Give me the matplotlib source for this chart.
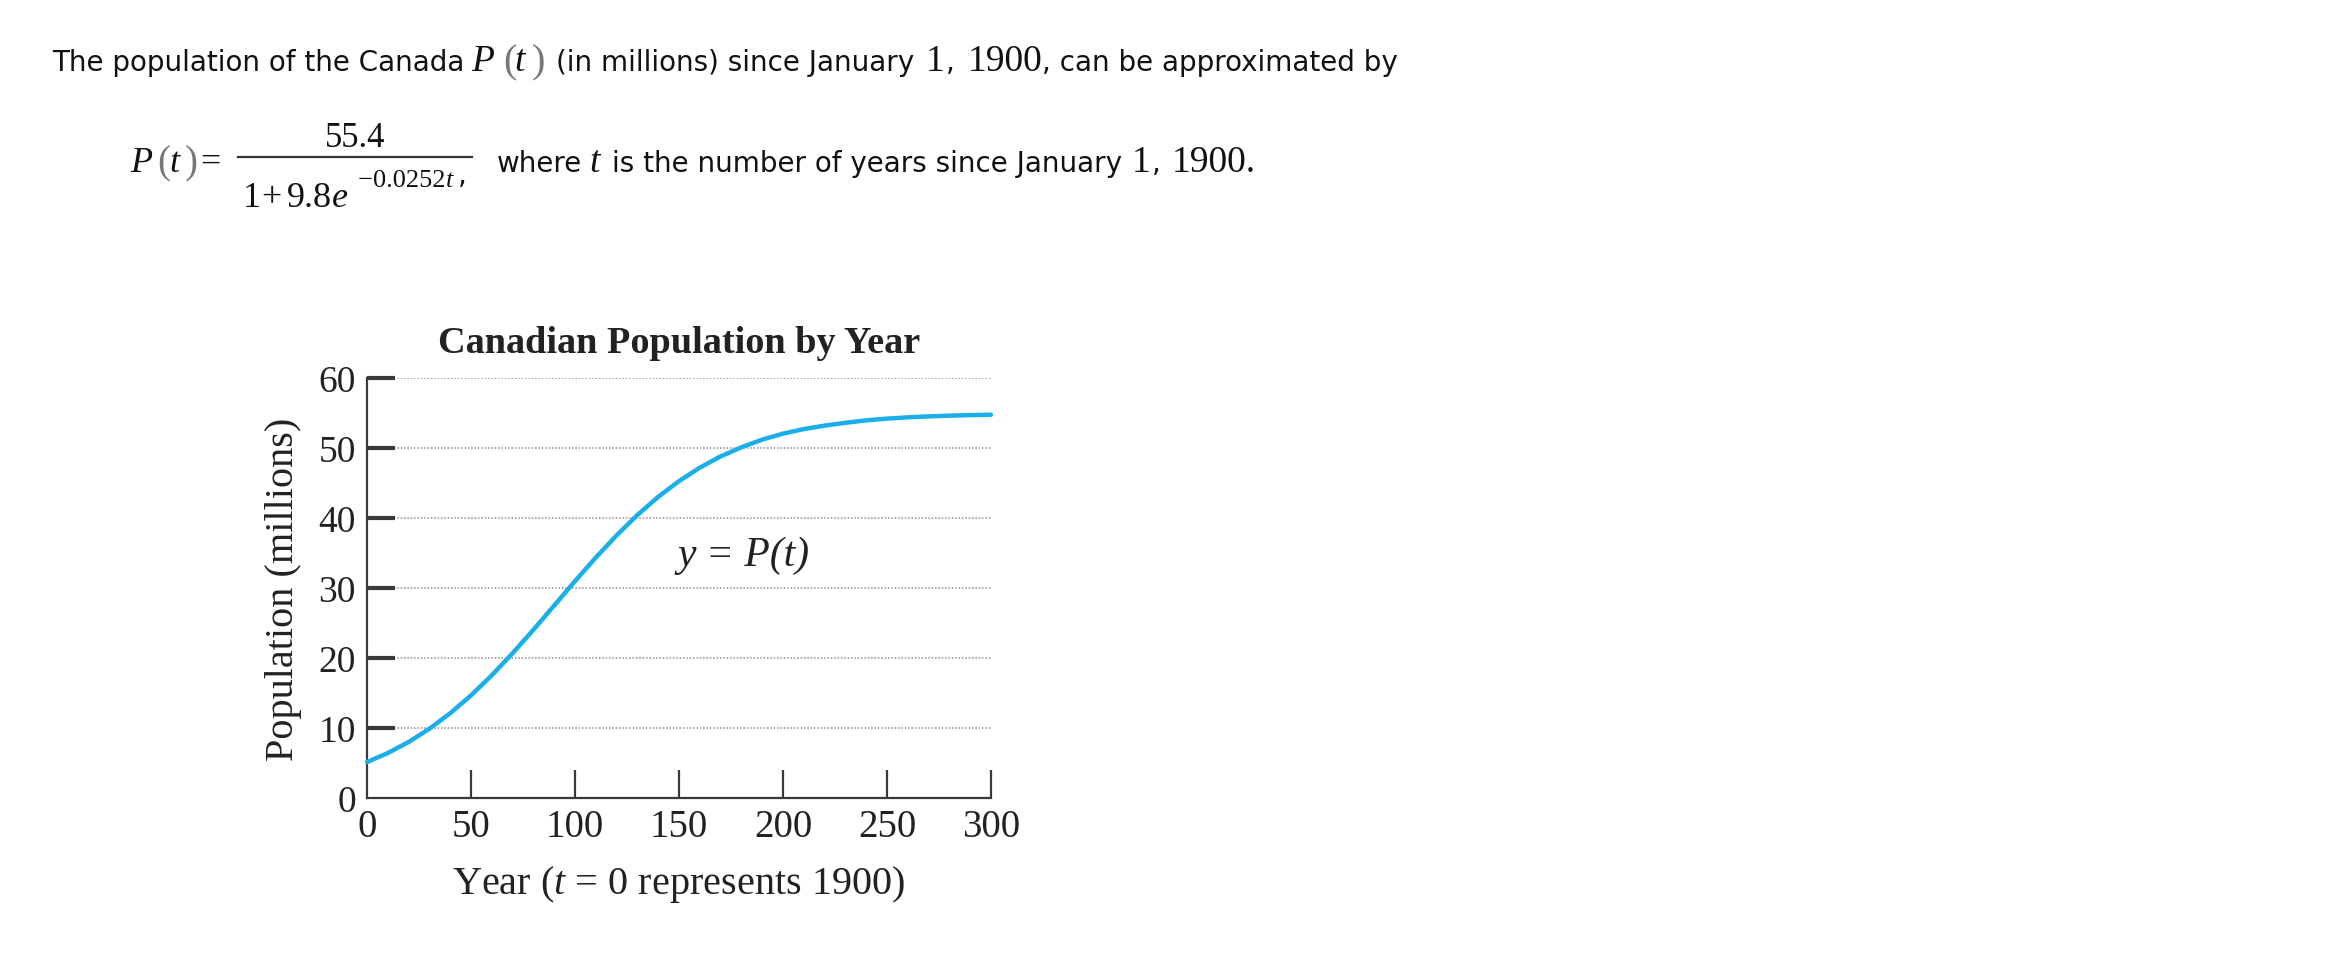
import numpy as np
import matplotlib
matplotlib.use("Agg")
import matplotlib.pyplot as plt

plt.rcParams["mathtext.fontset"] = "custom"
plt.rcParams["mathtext.it"] = "Liberation Serif:italic"
plt.rcParams["mathtext.rm"] = "Liberation Serif"

# ---- data ----
years = [0, 10, 20, 30, 40, 50, 60, 70, 80, 90, 100, 110, 120, 130, 140, 150,
         160, 170, 180, 190, 200, 210, 220, 230, 240, 250, 260, 270, 280, 290, 300]
population = [5.13, 6.43, 8.00, 9.89, 12.11, 14.66, 17.53, 20.68, 24.03, 27.50,
              30.98, 34.35, 37.52, 40.43, 43.02, 45.27, 47.19, 48.80, 50.10, 51.20,
              52.05, 52.70, 53.20, 53.60, 53.95, 54.20, 54.38, 54.52, 54.62, 54.70, 54.75]
x_ticks = [0, 50, 100, 150, 200, 250, 300]
y_ticks = [0, 10, 20, 30, 40, 50, 60]

W, H = 2350, 954
fig = plt.figure(figsize=(W / 100, H / 100), dpi=100)
renderer = fig.canvas.get_renderer()

SANS = "DejaVu Sans"
SERIF = "Liberation Serif"
INK = "#111111"


def put(x, y, s, **kw):
    kw.setdefault("ha", "left")
    kw.setdefault("va", "baseline")
    t = fig.text(x / W, 1 - y / H, s, **kw)
    return t.get_window_extent(renderer).x1


def chain(x, y, items):
    for s, kw, gap, dy in items:
        x = put(x, y + dy, s, **kw) + gap
    return x


sans = dict(family=SANS, fontsize=20, color=INK)
tim = dict(family=SERIF, fontsize=27, color=INK)
timi = dict(family=SERIF, fontsize=27, style="italic", color=INK)
par = dict(family=SERIF, fontsize=29, color="#777777")

# ---- line 1 ----
B1 = 71
put(52, B1, "The population of the Canada", **sans)
put(471, B1, "P", **timi)
put(503, B1 + 1, "(", **par)
put(514, B1, "t", **timi)
put(532, B1 + 1, ")", **par)
xe = put(556, B1, "(in millions) since January", **sans)
chain(xe + 12, B1, [
    ("1", tim, 1, 0),
    (",", sans, 13, 0),
    ("1900", tim, 0, 0),
    (", can be approximated by", sans, 0, 0),
])

# ---- line 2 : formula ----
B2 = 172
tim2 = dict(family=SERIF, fontsize=26, color=INK)
timi2 = dict(family=SERIF, fontsize=26, style="italic", color=INK)
par2 = dict(family=SERIF, fontsize=28, color="#777777")
put(130, B2, "P", **timi2)
put(157, B2 + 1, "(", **par2)
put(169, B2, "t", **timi2)
put(185, B2 + 1, ")", **par2)
put(200, B2, "=", **tim2)
fig.add_artist(plt.Line2D([238 / W, 472 / W], [1 - 158 / H, 1 - 158 / H], color="#333333", lw=1.6))
put(355, 147, "55.4", ha="center", family=SERIF, fontsize=25, color=INK)
den = dict(family=SERIF, fontsize=26, color=INK)
put(243, 207, "1", **den)
put(261, 207, "+", **den)
put(287, 207, "9.8", **den)
put(332, 207, "e", **dict(den, style="italic"))
exp_kw = dict(family=SERIF, fontsize=19, color=INK)
put(358, 187, "\u2212", **exp_kw)
put(373, 187, "0.0252", **exp_kw)
xx = put(446, 187, "t", **dict(exp_kw, style="italic"))
put(xx + 4, 184, ",", **sans)
put(497, B2, "where", **sans)
put(589, B2, "t", **timi)
xe = put(612, B2, "is the number of years since January", **sans)
chain(xe + 10, B2, [
    ("1", tim, 1, 0),
    (",", sans, 11, 0),
    ("1900.", tim, 0, 0),
])

# ---- chart ----
ax = fig.add_axes([367 / W, 1 - 799 / H, 624 / W, 420 / H])
ax.plot(years, population, color="#1AAFE8", lw=3.2, solid_capstyle="round", zorder=3, clip_on=False)
ax.set_xlim(0, 300)
ax.set_ylim(0, 60)

for yv in y_ticks[1:]:
    ax.axhline(yv, color="#8f8f8f", lw=1.1, ls=(0, (1, 1.2)), zorder=1)

for s in ["top", "right"]:
    ax.spines[s].set_visible(False)
for s in ["left", "bottom"]:
    ax.spines[s].set_color("#3a3a3a")
    ax.spines[s].set_linewidth(1.6)

ax.set_xticks(x_ticks)
ax.set_yticks(y_ticks)
ax.set_xticklabels([str(v) for v in x_ticks], family=SERIF, fontsize=28, color="#222222")
ax.set_yticklabels([str(v) for v in y_ticks], family=SERIF, fontsize=27, color="#222222")
ax.tick_params(axis="x", direction="in", length=20, width=1.6, color="#3a3a3a", pad=7)
ax.tick_params(axis="y", direction="in", length=20, width=3.0, color="#3a3a3a", pad=8)
ax.xaxis.get_major_ticks()[0].tick1line.set_visible(False)
ax.yaxis.get_major_ticks()[0].tick1line.set_visible(False)

ax.set_title("Canadian Population by Year", family=SERIF, fontsize=27.5, fontweight="bold",
             color="#222222", pad=19)
ax.set_ylabel("Population (millions)", family=SERIF, fontsize=29, color="#222222", labelpad=12)
ax.set_xlabel("Year ($\\mathit{t}$ = 0 represents 1900)", family=SERIF, fontsize=29,
              color="#222222", labelpad=13)
ax.text(181, 34.8, "y = P(t)", family=SERIF, style="italic", fontsize=30, color="#222222",
        ha="center", va="center")

fig.savefig("out.png", dpi=100)
